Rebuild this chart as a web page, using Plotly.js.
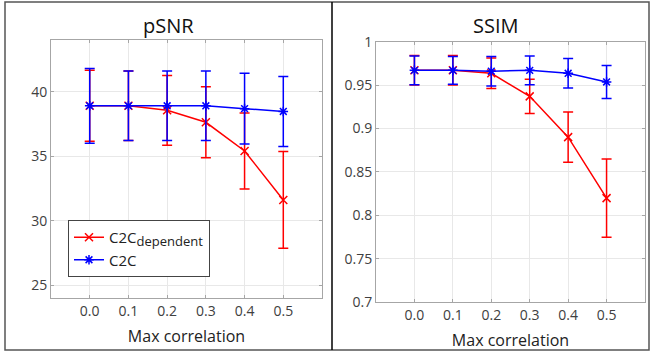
<!DOCTYPE html>
<html>
<head>
<meta charset="utf-8">
<script src="https://cdn.plot.ly/plotly-3.0.1.min.js"></script>
<style>html,body{margin:0;padding:0;background:#fff;}#chart{width:652px;height:353px;}</style>
</head>
<body>
<div id="chart"></div>
<script>
// Data
const maxCorrelation = [0.0, 0.1, 0.2, 0.3, 0.4, 0.5];
const xTickLabels = ["0.0", "0.1", "0.2", "0.3", "0.4", "0.5"];

const psnrDependent = [38.9, 38.9, 38.55, 37.62, 35.4, 31.6];
const psnrDependentErr = [2.75, 2.7, 2.7, 2.75, 2.95, 3.75];
const psnrC2C = [38.9, 38.9, 38.9, 38.9, 38.68, 38.46];
const psnrC2CErr = [2.9, 2.7, 2.7, 2.7, 2.75, 2.72];

const ssimDependent = [0.967, 0.967, 0.9636, 0.937, 0.890, 0.8197];
const ssimDependentErr = [0.017, 0.017, 0.0175, 0.0197, 0.029, 0.045];
const ssimC2C = [0.967, 0.967, 0.966, 0.967, 0.9636, 0.9536];
const ssimC2CErr = [0.0165, 0.016, 0.017, 0.0165, 0.017, 0.019];

const RED = '#ff0000', BLUE = '#0000ff';
const FONT = '"Open Sans", "Liberation Sans", sans-serif';

function tr(x, y, err, color, symbol, name, xa, ya, showlegend) {
  return {
    x: x, y: y, type: 'scatter', mode: 'lines+markers', name: name,
    xaxis: xa, yaxis: ya, showlegend: showlegend,
    line: {color: color, width: 1.5},
    marker: {color: color, symbol: symbol, size: 8, line: {color: color, width: 1.5}},
    error_y: {type: 'data', array: err, visible: true, color: color, thickness: 1.5, width: 5}
  };
}

const depName = 'C2C<sub><span style="font-size:13px">dependent</span></sub>';

const data = [
  tr(maxCorrelation, psnrDependent, psnrDependentErr, RED, 'x-thin-open', depName, 'x', 'y', true),
  tr(maxCorrelation, psnrC2C, psnrC2CErr, BLUE, 'asterisk-open', 'C2C', 'x', 'y', true),
  tr(maxCorrelation, ssimDependent, ssimDependentErr, RED, 'x-thin-open', depName, 'x2', 'y2', false),
  tr(maxCorrelation, ssimC2C, ssimC2CErr, BLUE, 'asterisk-open', 'C2C', 'x2', 'y2', false)
];

const axisCommon = {
  showline: true, linecolor: '#a6a6a6', linewidth: 1, mirror: 'ticks',
  ticks: 'inside', ticklen: 3, tickcolor: '#a6a6a6',
  showgrid: true, gridcolor: '#e8e8e8', gridwidth: 1, zeroline: false,
  tickfont: {family: FONT, size: 14, color: '#404040'}
};

const xAxis = (domain, anchor) => Object.assign({}, axisCommon, {
  domain: domain, anchor: anchor, range: [-0.1, 0.6],
  tickvals: maxCorrelation, ticktext: xTickLabels,
  title: {text: 'Max correlation', font: {family: FONT, size: 16, color: '#222'}, standoff: 12}
});

const layout = {
  width: 652, height: 353,
  margin: {l: 0, r: 0, t: 0, b: 0},
  paper_bgcolor: '#fff', plot_bgcolor: '#fff',
  showlegend: true,
  xaxis: xAxis([51/652, 322/652], 'y'),
  yaxis: Object.assign({}, axisCommon, {
    domain: [1 - 298/353, 1 - 40/353], anchor: 'x', range: [24, 44], dtick: 5, tick0: 25
  }),
  xaxis2: xAxis([376/652, 645/652], 'y2'),
  yaxis2: Object.assign({}, axisCommon, {
    domain: [1 - 302/353, 1 - 41.7/353], anchor: 'x2', range: [0.7, 1], dtick: 0.05, tick0: 0.7
  }),
  legend: {
    x: 68/652, y: 1 - 220/353, xanchor: 'left', yanchor: 'top',
    bgcolor: '#fff', bordercolor: '#444', borderwidth: 1,
    font: {family: FONT, size: 15, color: '#222'},
    tracegroupgap: 0
  },
  annotations: [
    {text: 'pSNR', xref: 'paper', yref: 'paper', x: 168/652, y: 1 - 25/353, showarrow: false,
     xanchor: 'center', yanchor: 'middle', font: {family: FONT, size: 20, color: '#111'}},
    {text: 'SSIM', xref: 'paper', yref: 'paper', x: 496/652, y: 1 - 25/353, showarrow: false,
     xanchor: 'center', yanchor: 'middle', font: {family: FONT, size: 20, color: '#111'}}
  ],
  shapes: [
    {type: 'rect', xref: 'paper', yref: 'paper', x0: 5/652, x1: 649/652, y0: 1 - 350/353, y1: 1 - 2/353,
     line: {color: '#555', width: 1.5}},
    {type: 'line', xref: 'paper', yref: 'paper', x0: 332/652, x1: 332/652, y0: 1 - 350/353, y1: 1 - 2/353,
     line: {color: '#000', width: 1.5}}
  ]
};

Plotly.newPlot('chart', data, layout, {displayModeBar: false, staticPlot: true});
</script>
</body>
</html>
